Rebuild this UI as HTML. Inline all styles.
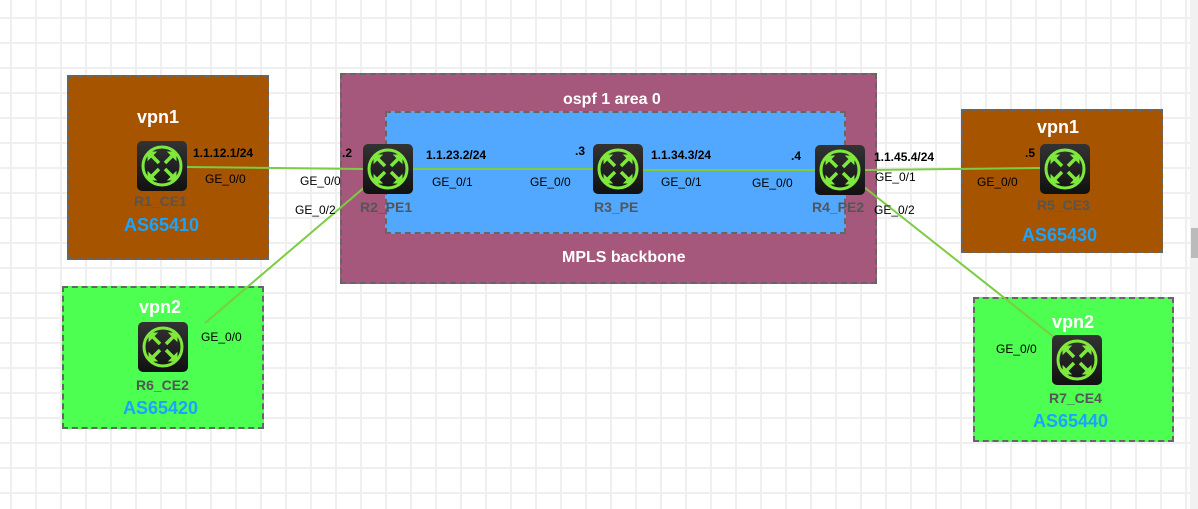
<!DOCTYPE html>
<html><head><meta charset="utf-8"><style>
body{margin:0;width:1198px;height:509px;overflow:hidden;position:relative;font-family:"Liberation Sans",Arial,sans-serif;
background-color:#fff;
background-image:linear-gradient(90deg,#efefef 2px,transparent 2px),linear-gradient(#efefef 2px,transparent 2px);
background-size:25px 25px;background-position:10px 17px;}
.box{position:absolute;border:2px dashed #666;box-sizing:border-box;}
.t{position:absolute;white-space:nowrap;}
.s{font-size:12px;color:#000;}
.b{font-size:12px;font-weight:bold;color:#000;}
.n{font-size:14px;font-weight:bold;color:#555;}
.as{font-size:18px;font-weight:bold;color:#1aa3ff;}
.v{font-size:18px;font-weight:bold;color:#fff;}
.r{position:absolute;width:50px;height:50px;border-radius:5px;background:linear-gradient(#333,#111);}
</style></head><body>
<div class="box" style="left:67px;top:75px;width:202px;height:185px;background:#a65400"></div>
<div class="box" style="left:62px;top:286px;width:202px;height:143px;background:#4cff50"></div>
<div class="box" style="left:340px;top:73px;width:537px;height:211px;background:#a5587b"></div>
<div class="box" style="left:385px;top:111px;width:461px;height:123px;background:#52a8ff"></div>
<div class="box" style="left:961px;top:109px;width:202px;height:144px;background:#a65400"></div>
<div class="box" style="left:973px;top:297px;width:201px;height:145px;background:#4cff50"></div>
<div style="position:absolute;left:1190px;top:0;width:8px;height:509px;background:#f1f1f1"></div>
<div style="position:absolute;left:1191px;top:228px;width:7px;height:30px;background:#bbb"></div>

<svg style="position:absolute;left:0;top:0" width="1198" height="509">
<g stroke="#7ccc44" stroke-width="2">
<line x1="187" y1="167" x2="363" y2="169"/>
<line x1="413" y1="169" x2="593" y2="169"/>
<line x1="643" y1="170" x2="815" y2="170"/>
<line x1="865" y1="170" x2="1040" y2="168"/>
<line x1="366" y1="186" x2="205" y2="323"/>
<line x1="864" y1="187" x2="1055" y2="338"/>
</g>
<defs><g id="ic">
<circle cx="25" cy="25" r="19" fill="none" stroke="#7ee83c" stroke-width="3"/>
<g stroke="#7ee83c" stroke-width="3.5" fill="#7ee83c">
<path d="M14 14 L22 22 M36 14 L28 22 M14 36 L22 28 M36 36 L28 28" fill="none"/>
<path d="M11 11 L19 11 L11 19Z M39 11 L31 11 L39 19Z M11 39 L19 39 L11 31Z M39 39 L31 39 L39 31Z" stroke-width="1"/>
</g></g></defs>
</svg>
<div class="r" style="left:137px;top:141px"><svg width="50" height="50"><use href="#ic"/></svg></div>
<div class="r" style="left:363px;top:144px"><svg width="50" height="50"><use href="#ic"/></svg></div>
<div class="r" style="left:593px;top:144px"><svg width="50" height="50"><use href="#ic"/></svg></div>
<div class="r" style="left:815px;top:145px"><svg width="50" height="50"><use href="#ic"/></svg></div>
<div class="r" style="left:1040px;top:144px"><svg width="50" height="50"><use href="#ic"/></svg></div>
<div class="r" style="left:138px;top:322px"><svg width="50" height="50"><use href="#ic"/></svg></div>
<div class="r" style="left:1052px;top:335px"><svg width="50" height="50"><use href="#ic"/></svg></div>

<div class="t v" style="left:137px;top:107px">vpn1</div>
<div class="t v" style="left:139px;top:297px">vpn2</div>
<div class="t v" style="left:1037px;top:117px">vpn1</div>
<div class="t v" style="left:1052px;top:312px">vpn2</div>
<div class="t" style="left:563px;top:91px;font-size:16px;font-weight:bold;color:#fff">ospf 1 area 0</div>
<div class="t" style="left:562px;top:249px;font-size:16px;font-weight:bold;color:#fff">MPLS backbone</div>

<div class="t n" style="left:134px;top:193px">R1_CE1</div>
<div class="t n" style="left:360px;top:199px">R2_PE1</div>
<div class="t n" style="left:594px;top:199px">R3_PE</div>
<div class="t n" style="left:812px;top:199px">R4_PE2</div>
<div class="t n" style="left:1037px;top:197px">R5_CE3</div>
<div class="t n" style="left:136px;top:377px">R6_CE2</div>
<div class="t n" style="left:1049px;top:390px">R7_CE4</div>

<div class="t as" style="left:124px;top:215px">AS65410</div>
<div class="t as" style="left:123px;top:398px">AS65420</div>
<div class="t as" style="left:1022px;top:225px">AS65430</div>
<div class="t as" style="left:1033px;top:411px">AS65440</div>

<div class="t b" style="left:193px;top:146px">1.1.12.1/24</div>
<div class="t b" style="left:342px;top:146px">.2</div>
<div class="t b" style="left:426px;top:148px">1.1.23.2/24</div>
<div class="t b" style="left:575px;top:144px">.3</div>
<div class="t b" style="left:651px;top:148px">1.1.34.3/24</div>
<div class="t b" style="left:791px;top:149px">.4</div>
<div class="t b" style="left:874px;top:150px">1.1.45.4/24</div>
<div class="t b" style="left:1025px;top:146px">.5</div>

<div class="t s" style="left:205px;top:172px">GE_0/0</div>
<div class="t s" style="left:300px;top:174px">GE_0/0</div>
<div class="t s" style="left:295px;top:203px">GE_0/2</div>
<div class="t s" style="left:432px;top:175px">GE_0/1</div>
<div class="t s" style="left:530px;top:175px">GE_0/0</div>
<div class="t s" style="left:661px;top:175px">GE_0/1</div>
<div class="t s" style="left:752px;top:176px">GE_0/0</div>
<div class="t s" style="left:875px;top:170px">GE_0/1</div>
<div class="t s" style="left:874px;top:203px">GE_0/2</div>
<div class="t s" style="left:977px;top:175px">GE_0/0</div>
<div class="t s" style="left:201px;top:330px">GE_0/0</div>
<div class="t s" style="left:996px;top:342px">GE_0/0</div>
</body></html>
